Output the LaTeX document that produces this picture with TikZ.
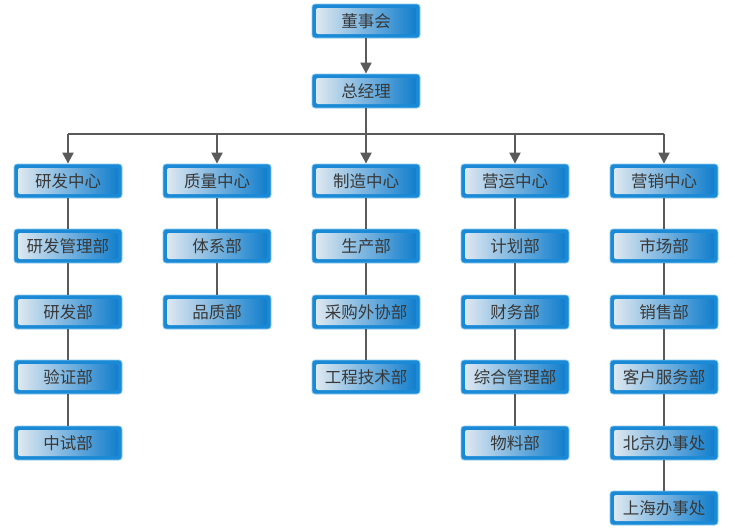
\documentclass[tikz,border=0pt]{standalone}
\usepackage{fontspec}
\newfontfamily\cjk{Noto Sans CJK SC}
\usetikzlibrary{arrows.meta}
\definecolor{boxblue}{HTML}{1B8AD6}
\definecolor{rimblue}{HTML}{8CCBEE}
\definecolor{innerlight}{HTML}{E6ECF2}
\definecolor{innerblue}{HTML}{0A7ACB}
\definecolor{linkgray}{HTML}{5A5A5A}
\definecolor{txtgray}{HTML}{383838}
\tikzset{
  unit/.style={rectangle, rounded corners=3pt, minimum width=108pt, minimum height=34pt,
    inner sep=0pt, fill=boxblue, draw=rimblue, line width=0.8pt, text=txtgray,
    font=\cjk\fontsize{16.5}{16.5}\selectfont,
    path picture={\shade[left color=innerlight, right color=innerblue, rounded corners=2pt]
      ([shift={(4pt,-4pt)}]path picture bounding box.north west) rectangle
      ([shift={(-4pt,4pt)}]path picture bounding box.south east);}},
  link/.style={draw=linkgray, line width=2.2pt},
  arr/.style={link, -{Triangle[width=11pt,length=11pt]}},
}
\begin{document}
\begin{tikzpicture}[x=1pt,y=-1pt]
  \useasboundingbox (0,0) rectangle (734,530);
  % top
  \node[unit] (dsh) at (366,21) {董事会};
  \node[unit] (zjl) at (366,91) {总经理};
  \coordinate (bus) at (366,134);
  % centres
  \node[unit] (yf)  at (68,181)  {研发中心};
  \node[unit] (zl)  at (217,181) {质量中心};
  \node[unit] (zz)  at (366,181) {制造中心};
  \node[unit] (yy)  at (515,181) {营运中心};
  \node[unit] (yx)  at (664,181) {营销中心};
  % 研发中心
  \node[unit] (yf1) at (68,246) {研发管理部};
  \node[unit] (yf2) at (68,312) {研发部};
  \node[unit] (yf3) at (68,377) {验证部};
  \node[unit] (yf4) at (68,443) {中试部};
  % 质量中心
  \node[unit] (zl1) at (217,246) {体系部};
  \node[unit] (zl2) at (217,312) {品质部};
  % 制造中心
  \node[unit] (zz1) at (366,246) {生产部};
  \node[unit] (zz2) at (366,312) {采购外协部};
  \node[unit] (zz3) at (366,377) {工程技术部};
  % 营运中心
  \node[unit] (yy1) at (515,246) {计划部};
  \node[unit] (yy2) at (515,312) {财务部};
  \node[unit] (yy3) at (515,377) {综合管理部};
  \node[unit] (yy4) at (515,443) {物料部};
  % 营销中心
  \node[unit] (yx1) at (664,246) {市场部};
  \node[unit] (yx2) at (664,312) {销售部};
  \node[unit] (yx3) at (664,377) {客户服务部};
  \node[unit] (yx4) at (664,443) {北京办事处};
  \node[unit] (yx5) at (664,508) {上海办事处};
  % connectors
  \draw[arr] (dsh) -- (zjl);
  \draw[link] (zjl) -- (bus);
  \draw[link] (yf.north |- bus) -- (yx.north |- bus);
  \foreach \c in {yf,zl,zz,yy,yx}
    \draw[arr] (\c.north |- bus) -- (\c);
  \foreach \a/\b in {yf/yf1,yf1/yf2,yf2/yf3,yf3/yf4,zl/zl1,zl1/zl2,zz/zz1,zz1/zz2,zz2/zz3,
      yy/yy1,yy1/yy2,yy2/yy3,yy3/yy4,yx/yx1,yx1/yx2,yx2/yx3,yx3/yx4,yx4/yx5}
    \draw[link] (\a) -- (\b);
\end{tikzpicture}
\end{document}
